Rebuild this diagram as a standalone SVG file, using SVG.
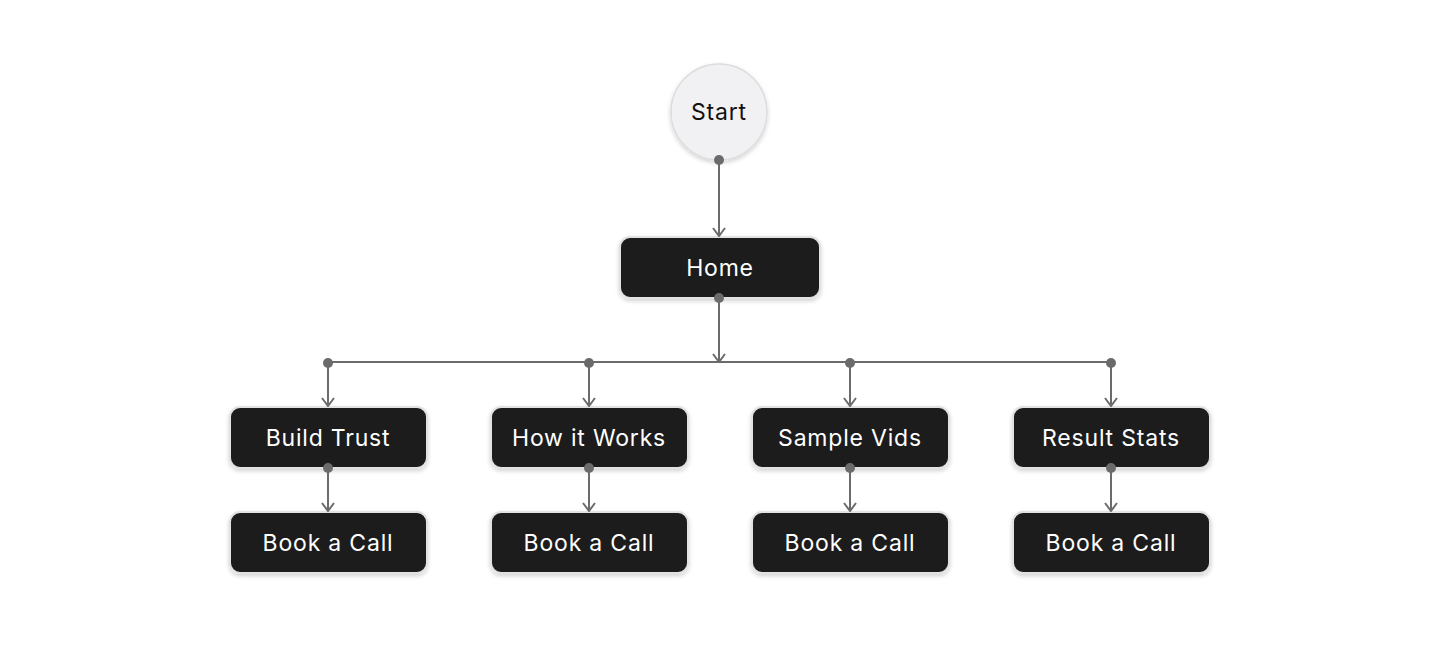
<svg xmlns="http://www.w3.org/2000/svg" width="1440" height="658" viewBox="0 0 1440 658">
<defs>
<style>
.node{fill:#1c1c1c;stroke:#e2e2e2;stroke-width:2;filter:url(#sh)}
.lbl{fill:#ffffff;font-family:Inter,"Noto Sans",sans-serif;font-size:23px;letter-spacing:0.8px;text-anchor:middle;dominant-baseline:central}
.edge{stroke:#6b6b6b;stroke-width:2;fill:none}
.dot{fill:#6b6b6b}
</style>
<marker id="arr" viewBox="0 0 10 14" refX="9" refY="7" markerWidth="10" markerHeight="14" markerUnits="userSpaceOnUse" orient="auto">
<path d="M1,1 L9,7 L1,13" fill="none" stroke="#6b6b6b" stroke-width="2"/>
</marker>
<filter id="sh" x="-20%" y="-30%" width="140%" height="170%">
<feDropShadow dx="0" dy="2" stdDeviation="2" flood-color="#000" flood-opacity="0.18"/>
</filter>
</defs>
<rect width="1440" height="658" fill="#ffffff"/>
<g id="start">
<circle cx="719" cy="112" r="48" fill="#f1f1f3" stroke="#dcdcdc" stroke-width="1.5" filter="url(#sh)"/>
<text x="719" y="112" class="lbl" style="fill:#111">Start</text>
</g>
<g id="home">
<rect class="node" x="620" y="237" width="200" height="61" rx="10"/>
<text x="720" y="268" class="lbl">Home</text>
</g>
<g id="build-trust">
<rect class="node" x="230" y="407" width="197" height="61" rx="10"/>
<text x="328" y="438" class="lbl">Build Trust</text>
</g>
<g id="how-it-works">
<rect class="node" x="491" y="407" width="197" height="61" rx="10"/>
<text x="589" y="438" class="lbl">How it Works</text>
</g>
<g id="sample-vids">
<rect class="node" x="752" y="407" width="197" height="61" rx="10"/>
<text x="850" y="438" class="lbl">Sample Vids</text>
</g>
<g id="result-stats">
<rect class="node" x="1013" y="407" width="197" height="61" rx="10"/>
<text x="1111" y="438" class="lbl">Result Stats</text>
</g>
<g id="book-call-1">
<rect class="node" x="230" y="512" width="197" height="61" rx="10"/>
<text x="328" y="543" class="lbl">Book a Call</text>
</g>
<g id="book-call-2">
<rect class="node" x="491" y="512" width="197" height="61" rx="10"/>
<text x="589" y="543" class="lbl">Book a Call</text>
</g>
<g id="book-call-3">
<rect class="node" x="752" y="512" width="197" height="61" rx="10"/>
<text x="850" y="543" class="lbl">Book a Call</text>
</g>
<g id="book-call-4">
<rect class="node" x="1013" y="512" width="197" height="61" rx="10"/>
<text x="1111" y="543" class="lbl">Book a Call</text>
</g>
<g id="connectors">
<path class="edge" d="M719,160 V236" marker-end="url(#arr)"/>
<path class="edge" d="M719,298 V362" marker-end="url(#arr)"/>
<path class="edge" d="M328,362 H1111"/>
<path class="edge" d="M328,362 V406" marker-end="url(#arr)"/>
<path class="edge" d="M589,362 V406" marker-end="url(#arr)"/>
<path class="edge" d="M850,362 V406" marker-end="url(#arr)"/>
<path class="edge" d="M1111,362 V406" marker-end="url(#arr)"/>
<path class="edge" d="M328,468 V511" marker-end="url(#arr)"/>
<path class="edge" d="M589,468 V511" marker-end="url(#arr)"/>
<path class="edge" d="M850,468 V511" marker-end="url(#arr)"/>
<path class="edge" d="M1111,468 V511" marker-end="url(#arr)"/>
<circle class="dot" cx="719" cy="160" r="5"/>
<circle class="dot" cx="719" cy="298" r="5"/>
<circle class="dot" cx="328" cy="363" r="5"/>
<circle class="dot" cx="589" cy="363" r="5"/>
<circle class="dot" cx="850" cy="363" r="5"/>
<circle class="dot" cx="1111" cy="363" r="5"/>
<circle class="dot" cx="328" cy="468" r="5"/>
<circle class="dot" cx="589" cy="468" r="5"/>
<circle class="dot" cx="850" cy="468" r="5"/>
<circle class="dot" cx="1111" cy="468" r="5"/>
</g>
</svg>
